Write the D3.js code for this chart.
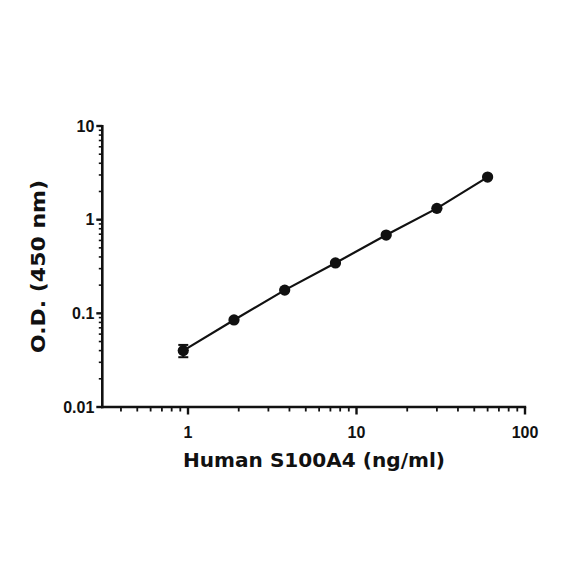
<!DOCTYPE html>
<html lang="en">
<head>
    <meta charset="UTF-8">
    <title>Human S100A4 standard curve</title>
    <script src="https://d3js.org/d3.v7.min.js"></script>
    <style>
        body { margin: 0; background: #fff; }
        svg { display: block; }
        .tick-label { font-family: "Liberation Sans", Arial, sans-serif; font-weight: bold; font-size: 16px; fill: #111; }
        .axis-title { font-family: "DejaVu Sans", sans-serif; font-weight: bold; font-size: 19.5px; fill: #111; }
    </style>
</head>
<body>
    <div id="chart"></div>
    <script>
        // standard curve data
        const conc = [0.9375, 1.875, 3.75, 7.5, 15, 30, 60];
        const od = [0.040, 0.085, 0.177, 0.345, 0.685, 1.32, 2.85];
        const odErr = [0.006, 0.002, 0.003, 0.004, 0.008, 0.02, 0.03];

        const xMajor = [1, 10, 100];
        const xMajorLabels = ["1", "10", "100"];
        const yMajor = [0.01, 0.1, 1, 10];
        const yMajorLabels = ["0.01", "0.1", "1", "10"];

        const width = 584, height = 584;
        const svg = d3.select("#chart").append("svg")
            .attr("width", width)
            .attr("height", height);

        const x = d3.scaleLog().domain([0.31, 100]).range([102.3, 525]);
        const y = d3.scaleLog().domain([0.01, 10]).range([407, 126]);

        // minor ticks at 2..9 of every decade
        function minors(lo, hi) {
            const out = [];
            for (let e = Math.floor(Math.log10(lo)); e < Math.ceil(Math.log10(hi)); e++) {
                for (let m = 2; m <= 9; m++) {
                    const v = m * Math.pow(10, e);
                    if (v > lo && v < hi) out.push(v);
                }
            }
            return out;
        }

        const axisColor = "#111";

        // y axis
        const gy = svg.append("g");
        gy.append("line")
            .attr("x1", x.range()[0]).attr("x2", x.range()[0])
            .attr("y1", y(10) - 1).attr("y2", y(0.01) + 1.2)
            .attr("stroke", axisColor).attr("stroke-width", 2.6);
        gy.selectAll(".ymin").data(minors(0.01, 10)).join("line")
            .attr("x1", x.range()[0] - 3.5).attr("x2", x.range()[0])
            .attr("y1", d => y(d)).attr("y2", d => y(d))
            .attr("stroke", axisColor).attr("stroke-width", 1.6);
        gy.selectAll(".ymaj").data(yMajor).join("line")
            .attr("x1", x.range()[0] - 6).attr("x2", x.range()[0])
            .attr("y1", d => y(d)).attr("y2", d => y(d))
            .attr("stroke", axisColor).attr("stroke-width", 2.4);
        gy.selectAll("text").data(yMajor).join("text")
            .attr("class", "tick-label")
            .attr("x", x.range()[0] - 8)
            .attr("y", d => y(d))
            .attr("dy", "0.36em")
            .attr("text-anchor", "end")
            .text((d, i) => yMajorLabels[i]);

        // x axis
        const gx = svg.append("g");
        gx.append("line")
            .attr("x1", x.range()[0] - 1.3).attr("x2", x(100) + 1.2)
            .attr("y1", y(0.01)).attr("y2", y(0.01))
            .attr("stroke", axisColor).attr("stroke-width", 2.6);
        gx.selectAll(".xmin").data(minors(0.35, 100)).join("line")
            .attr("x1", d => x(d)).attr("x2", d => x(d))
            .attr("y1", y(0.01)).attr("y2", y(0.01) + 4.5)
            .attr("stroke", axisColor).attr("stroke-width", 1.8);
        gx.selectAll(".xmaj").data(xMajor).join("line")
            .attr("x1", d => x(d)).attr("x2", d => x(d))
            .attr("y1", y(0.01)).attr("y2", y(0.01) + 7.5)
            .attr("stroke", axisColor).attr("stroke-width", 2.4);
        gx.selectAll("text").data(xMajor).join("text")
            .attr("class", "tick-label")
            .attr("x", d => x(d))
            .attr("y", 438)
            .attr("text-anchor", "middle")
            .text((d, i) => xMajorLabels[i]);

        // axis titles
        svg.append("text")
            .attr("class", "axis-title")
            .attr("x", 314).attr("y", 467)
            .attr("text-anchor", "middle")
            .attr("textLength", 262).attr("lengthAdjust", "spacingAndGlyphs")
            .text("Human S100A4 (ng/ml)");
        svg.append("text")
            .attr("class", "axis-title")
            .attr("transform", "translate(45,266.5) rotate(-90)")
            .attr("text-anchor", "middle")
            .attr("textLength", 173).attr("lengthAdjust", "spacingAndGlyphs")
            .text("O.D. (450 nm)");

        const pts = conc.map((c, i) => ({ c, v: od[i], e: odErr[i] }));

        // curve through the standards
        svg.append("path")
            .datum(pts)
            .attr("fill", "none")
            .attr("stroke", "#111")
            .attr("stroke-width", 2.2)
            .attr("d", d3.line().x(d => x(d.c)).y(d => y(d.v)));

        // error bars
        const eb = svg.append("g").attr("stroke", "#111").attr("stroke-width", 2);
        pts.forEach(d => {
            const y0 = y(d.v + d.e), y1 = y(d.v - d.e);
            eb.append("line").attr("x1", x(d.c)).attr("x2", x(d.c)).attr("y1", y0).attr("y2", y1);
            eb.append("line").attr("x1", x(d.c) - 5).attr("x2", x(d.c) + 5).attr("y1", y0).attr("y2", y0);
            eb.append("line").attr("x1", x(d.c) - 5).attr("x2", x(d.c) + 5).attr("y1", y1).attr("y2", y1);
        });

        // points
        svg.append("g").selectAll("circle").data(pts).join("circle")
            .attr("cx", d => x(d.c))
            .attr("cy", d => y(d.v))
            .attr("r", 5.6)
            .attr("fill", "#111");
    </script>
</body>
</html>
